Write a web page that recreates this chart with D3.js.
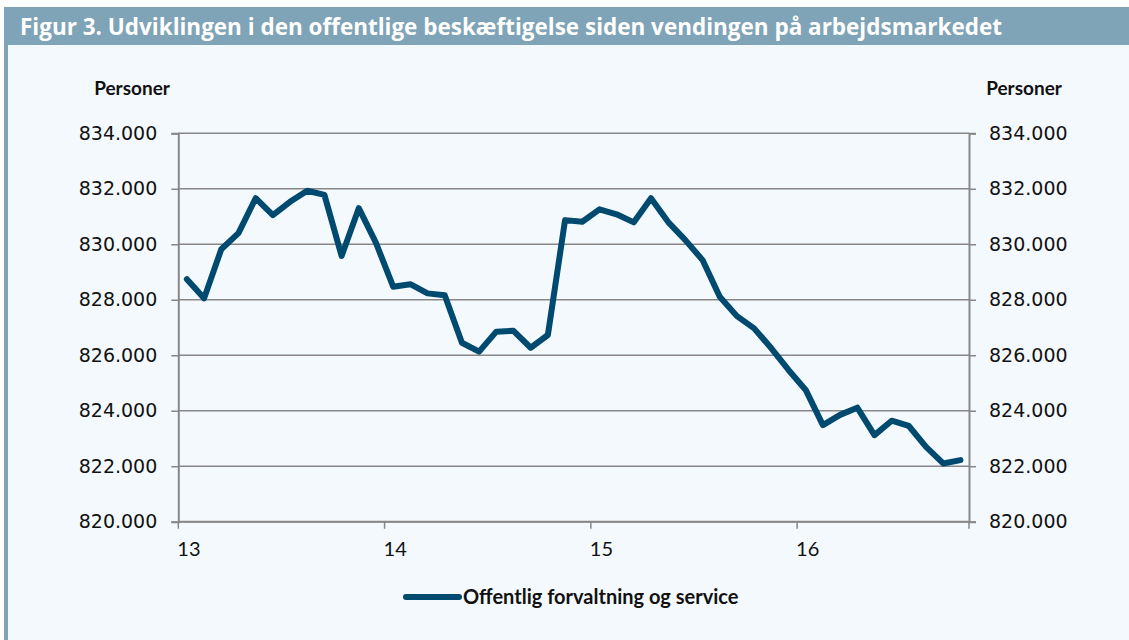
<!DOCTYPE html>
<html>
<head>
<meta charset="utf-8">
<script src="https://cdn.jsdelivr.net/npm/d3@7"></script>
<style>
  body { margin: 0; background: #ffffff; }
  svg { display: block; }
</style>
</head>
<body>
<div id="chart"></div>
<script>

// monthly public employment, 2013M1 - 2016M10 (thousands of persons)
var months = d3.range(46);
var values = [
  828.74, 828.05, 829.82, 830.40, 831.66, 831.05, 831.53, 831.93, 831.78, 829.58, 831.30, 830.05,
  828.47, 828.56, 828.23, 828.16, 826.45, 826.13, 826.85, 826.88, 826.27, 826.73, 830.87, 830.81,
  831.26, 831.08, 830.79, 831.66, 830.80, 830.15, 829.43, 828.11, 827.41, 826.97, 826.25, 825.47,
  824.75, 823.48, 823.85, 824.11, 823.12, 823.64, 823.45, 822.70, 822.10, 822.22
];
var yearLabels = ["13", "14", "15", "16"];
var yTicks = [820, 822, 824, 826, 828, 830, 832, 834];
var seriesName = "Offentlig forvaltning og service";
var title = "Figur 3. Udviklingen i den offentlige beskæftigelse siden vendingen på arbejdsmarkedet";

var W = 1129, H = 640;
var margin = {top: 133.3, right: 160, bottom: 118.3, left: 178.3},
    width = 969 - margin.left,
    height = 521.7 - margin.top;

var svg = d3.select("#chart")
  .append("svg")
  .attr("width", W)
  .attr("height", H);

// panel background + left stripe + title bar
svg.append("rect").attr("x", 4).attr("y", 7).attr("width", W - 4).attr("height", H - 7).attr("fill", "#7fa3b7");
svg.append("rect").attr("x", 8).attr("y", 45).attr("width", W - 8).attr("height", H - 45).attr("fill", "#f4f9fe");

svg.append("text")
  .attr("x", 20)
  .attr("y", 35)
  .attr("fill", "#ffffff")
  .style("font-family", "'Open Sans', sans-serif")
  .style("font-weight", "bold")
  .style("font-size", "22.5px")
  .attr("textLength", 982)
  .attr("lengthAdjust", "spacingAndGlyphs")
  .text(title);

var g = svg.append("g")
  .attr("transform", "translate(" + margin.left + "," + margin.top + ")");

var x = d3.scaleBand()
  .domain(months)
  .range([0, width]);

var y = d3.scaleLinear()
  .domain([820, 834])
  .range([height, 0]);

var grey = "#878787";
var font = "Lato, 'Open Sans', sans-serif";
var tickFont = "'DejaVu Sans', sans-serif";

// gridlines
g.append("g")
  .selectAll("line")
  .data(yTicks)
  .enter()
  .append("line")
    .attr("x1", 0)
    .attr("x2", width)
    .attr("y1", function(d) { return y(d); })
    .attr("y2", function(d) { return y(d); })
    .attr("stroke", grey)
    .attr("stroke-width", 1.5);

// left axis
var yl = g.append("g")
  .call(d3.axisLeft(y).tickValues(yTicks).tickSize(7).tickPadding(14)
    .tickFormat(function(d) { return d3.format(".3f")(d); }));
yl.select(".domain").attr("stroke", grey).attr("stroke-width", 2);
yl.selectAll(".tick line").attr("stroke", grey).attr("stroke-width", 1.5);
yl.selectAll(".tick text").style("font-family", tickFont).style("font-size", "19px").attr("fill", "#111");

// right axis
var yr = g.append("g")
  .attr("transform", "translate(" + width + ",0)")
  .call(d3.axisRight(y).tickValues(yTicks).tickSize(7).tickPadding(13)
    .tickFormat(function(d) { return d3.format(".3f")(d); }));
yr.select(".domain").attr("stroke", grey).attr("stroke-width", 2);
yr.selectAll(".tick line").attr("stroke", grey).attr("stroke-width", 1.5);
yr.selectAll(".tick text").style("font-family", tickFont).style("font-size", "19px").attr("fill", "#111");

// x axis: year boundaries every 12 months
var yearStarts = [0, 12, 24, 36];
var xa = g.append("g")
  .attr("transform", "translate(0," + height + ")");
xa.append("line")
  .attr("x1", 0).attr("x2", width)
  .attr("stroke", grey).attr("stroke-width", 2);
xa.selectAll("line.tk")
  .data(yearStarts.concat([46]))
  .enter()
  .append("line")
    .attr("class", "tk")
    .attr("x1", function(d) { return d === 46 ? width : x(d); })
    .attr("x2", function(d) { return d === 46 ? width : x(d); })
    .attr("y1", 0)
    .attr("y2", 7)
    .attr("stroke", grey)
    .attr("stroke-width", 1.5);
xa.selectAll("text")
  .data(yearStarts)
  .enter()
  .append("text")
    .attr("x", function(d) { return x(d) - 1; })
    .attr("y", 34)
    .style("font-family", font)
    .style("font-size", "20px")
    .attr("fill", "#111")
    .text(function(d, i) { return yearLabels[i]; });

// axis titles
svg.append("text")
  .attr("x", 132).attr("y", 95)
  .attr("text-anchor", "middle")
  .style("font-family", font).style("font-weight", "bold").style("font-size", "19px")
  .attr("fill", "#111")
  .text("Personer");
svg.append("text")
  .attr("x", 1024).attr("y", 95)
  .attr("text-anchor", "middle")
  .style("font-family", font).style("font-weight", "bold").style("font-size", "19px")
  .attr("fill", "#111")
  .text("Personer");

// the line
var line = d3.line()
  .x(function(d, i) { return x(months[i]) + x.bandwidth() / 2; })
  .y(function(d) { return y(d); });

g.append("path")
  .datum(values)
  .attr("d", line)
  .attr("fill", "none")
  .attr("stroke", "#004a70")
  .attr("stroke-width", 6)
  .attr("stroke-linejoin", "round")
  .attr("stroke-linecap", "round");

// legend
svg.append("line")
  .attr("x1", 406).attr("x2", 459)
  .attr("y1", 597).attr("y2", 597)
  .attr("stroke", "#004a70")
  .attr("stroke-width", 6)
  .attr("stroke-linecap", "round");
svg.append("text")
  .attr("x", 463).attr("y", 604)
  .style("font-family", font).style("font-weight", "bold").style("font-size", "20px")
  .attr("fill", "#111")
  .text(seriesName);

</script>
</body>
</html>
